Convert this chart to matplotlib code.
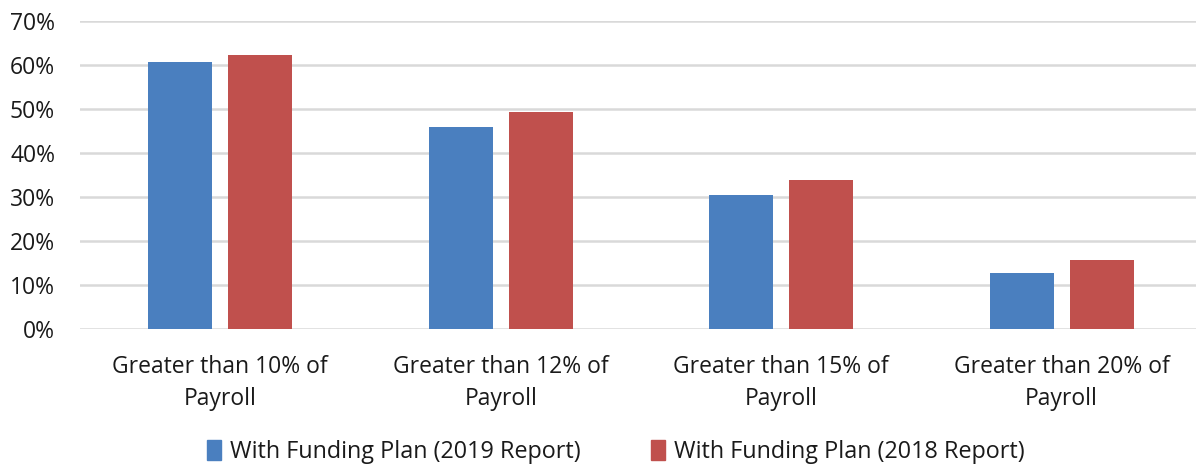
import matplotlib
matplotlib.use("Agg")
import matplotlib.pyplot as plt
import numpy as np
from matplotlib.patches import Patch

categories = ["Greater than 10% of\nPayroll", "Greater than 12% of\nPayroll",
              "Greater than 15% of\nPayroll", "Greater than 20% of\nPayroll"]
series_names = ["With Funding Plan (2019 Report)", "With Funding Plan (2018 Report)"]
values_2019 = [60.7, 45.9, 30.6, 12.7]
values_2018 = [62.3, 49.3, 33.8, 15.6]
yticks = [0, 10, 20, 30, 40, 50, 60, 70]
colors = ["#4a7fbf", "#c0504d"]

plt.rcParams['font.family'] = ['Open Sans', 'DejaVu Sans']

fig = plt.figure(figsize=(11.96, 4.66), dpi=100)
ax = fig.add_axes([0.0669, 0.294, 0.938, 0.66])

x = np.arange(len(categories))
w = 0.228
off = 0.1425
ax.bar(x - off, values_2019, w, color=colors[0], zorder=3)
ax.bar(x + off, values_2018, w, color=colors[1], zorder=3)

ax.set_xlim(-0.5, len(categories) - 0.5)
ax.set_ylim(0, 70)
ax.set_yticks(yticks)
ax.set_yticklabels([f"{v}%" for v in yticks], fontsize=16.5, color="#1a1a1a")
ax.set_xticks(x)
ax.set_xticklabels(categories, fontsize=16.5, color="#1a1a1a", linespacing=1.45)
ax.tick_params(axis='both', length=0)
ax.tick_params(axis='y', pad=18)
ax.tick_params(axis='x', pad=19)
ax.yaxis.grid(True, color="#d9d9d9", linewidth=1.8, zorder=0)
for s in ax.spines.values():
    s.set_visible(False)

handles = [Patch(color=c, label=n) for c, n in zip(colors, series_names)]
fig.legend(handles=handles, loc="center", bbox_to_anchor=(0.515, 0.03), ncol=2,
           frameon=False, fontsize=16.8, handlelength=0.6, handleheight=0.9,
           handletextpad=0.4, columnspacing=3.0, labelcolor="#1a1a1a")

fig.savefig("out.png", dpi=100, facecolor="white")
